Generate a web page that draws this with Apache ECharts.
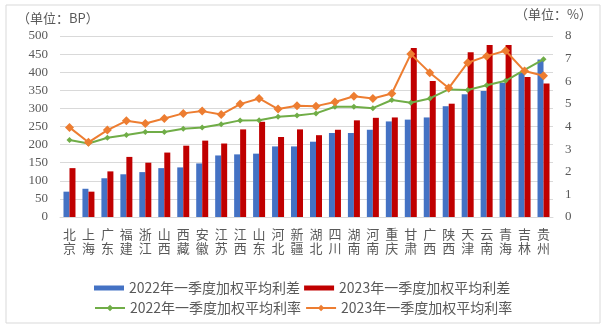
<!DOCTYPE html>
<html><head><meta charset="utf-8">
<script src="https://cdn.jsdelivr.net/npm/echarts@6/dist/echarts.min.js"></script>
<style>html,body{margin:0;padding:0;background:#fff}#c{width:608px;height:328px}</style>
</head><body><div id="c"></div>
<script>
const categories = ['北京','上海','广东','福建','浙江','山西','西藏','安徽','江苏','江西','山东','河北','新疆','湖北','四川','湖南','河南','重庆','甘肃','广西','陕西','天津','云南','青海','吉林','贵州'];
const spread2022 = [70,78,107,118,124,135,137,148,170,173,175,195,195,208,232,232,241,264,269,275,306,339,348,371,399,435];
const spread2023 = [135,70,126,166,150,178,197,211,203,242,263,221,242,226,241,267,274,275,467,376,313,455,475,475,387,369];
const rate2022 = [3.4,3.25,3.5,3.62,3.76,3.76,3.9,3.96,4.1,4.27,4.28,4.43,4.49,4.58,4.87,4.87,4.81,5.17,5.05,5.24,5.64,5.61,5.82,6.02,6.5,6.97];
const rate2023 = [3.96,3.3,3.84,4.25,4.13,4.35,4.58,4.68,4.53,4.99,5.24,4.77,4.92,4.9,5.08,5.34,5.24,5.46,7.2,6.38,5.7,6.82,7.11,7.35,6.45,6.24];
const leftTicks = {min:0, max:500, interval:50};
const rightTicks = {min:0, max:8, interval:1};
const names = ['2022年一季度加权平均利差','2023年一季度加权平均利差','2022年一季度加权平均利率','2023年一季度加权平均利率'];

const gray = '#595959';
const serif = '"Liberation Serif","DejaVu Serif",serif';
const cjk = '"Noto Sans CJK SC","Noto Sans",sans-serif';
const chart = echarts.init(document.getElementById('c'));
chart.setOption({
  animation:false,
  backgroundColor:'#fff',
  graphic:[
    {type:'rect',shape:{x:6,y:5,width:594,height:318},style:{fill:'none',stroke:'#d9d9d9',lineWidth:1}},
    {type:'text',left:17,top:12,style:{text:'（单位：BP）',fill:gray,font:'13px '+cjk}},
    {type:'text',left:515,top:8,style:{text:'（单位：%）',fill:gray,font:'13px '+cjk}}
  ],
  grid:{left:60,right:55,top:36,bottom:111},
  legend:[
    {data:[names[0],names[1]],left:89,top:276,itemWidth:30,itemHeight:5,itemGap:4,
     textStyle:{color:gray,fontSize:14,fontFamily:cjk},icon:'rect'},
    {data:[names[2],names[3]],left:89,top:296,itemWidth:30,itemHeight:8,itemGap:4,
     textStyle:{color:gray,fontSize:14,fontFamily:cjk}}
  ],
  xAxis:{type:'category',data:categories,
    axisLine:{lineStyle:{color:'#d9d9d9'}},axisTick:{show:false},
    axisLabel:{interval:0,color:gray,fontSize:13,fontFamily:cjk,lineHeight:14,margin:10,
      formatter:v=>v.split('').join('\n')}},
  yAxis:[
    {type:'value',min:leftTicks.min,max:leftTicks.max,interval:leftTicks.interval,
     axisLabel:{color:gray,fontSize:13,fontFamily:serif,margin:12},
     splitLine:{lineStyle:{color:'#d9d9d9'}},axisLine:{show:false},axisTick:{show:false}},
    {type:'value',min:rightTicks.min,max:rightTicks.max,interval:rightTicks.interval,
     axisLabel:{color:gray,fontSize:13,fontFamily:serif,margin:12},
     splitLine:{show:false},axisLine:{show:false},axisTick:{show:false}}
  ],
  series:[
    {name:names[0],type:'bar',data:spread2022,barWidth:6,barGap:'0%',itemStyle:{color:'#4472c4'}},
    {name:names[1],type:'bar',data:spread2023,barWidth:6,barGap:'0%',itemStyle:{color:'#c00000'}},
    {name:names[2],type:'line',yAxisIndex:1,data:rate2022,symbol:'diamond',symbolSize:6,
     lineStyle:{color:'#70ad47',width:2},itemStyle:{color:'#70ad47'}},
    {name:names[3],type:'line',yAxisIndex:1,data:rate2023,symbol:'diamond',symbolSize:9,
     lineStyle:{color:'#ed7d31',width:2},itemStyle:{color:'#ed7d31'}}
  ]
});
</script></body></html>
